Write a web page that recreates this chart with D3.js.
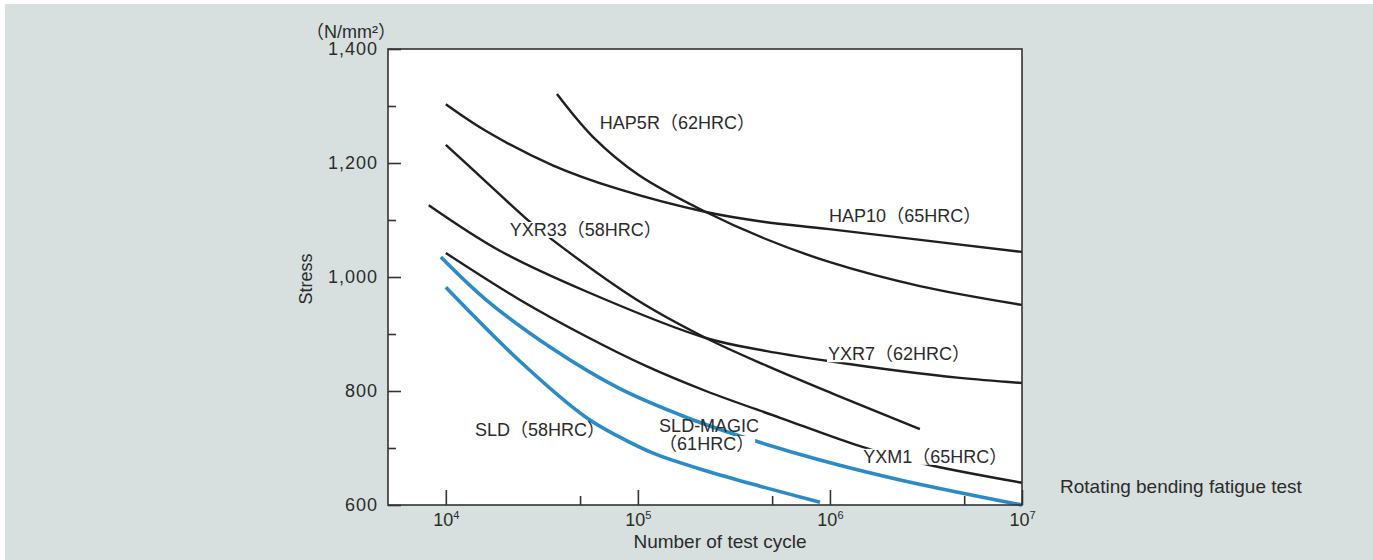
<!DOCTYPE html>
<html><head><meta charset="utf-8">
<script src="https://cdn.jsdelivr.net/npm/d3@7"></script>
<style>
html,body{margin:0;padding:0;background:#fff;}
svg{display:block;font-family:'Liberation Sans',Arial,'Noto Sans CJK JP',sans-serif;}
</style>
</head><body>
<svg id="c" width="1373" height="560"></svg>
<script>
// ---- axis ticks ----
const yTicksMajor = [600, 800, 1000, 1200, 1400];
const yTicksMinor = [700, 900, 1100, 1300];
const xTicksMajor = [1e4, 1e5, 1e6, 1e7];
const xTicksMinor = [5e4, 5e5, 5e6];
const xTickBase = "10";
const xTickExp = {1e4: "4", 1e5: "5", 1e6: "6", 1e7: "7"};

// ---- series: [cycles, stress N/mm2] ----
const hap5r    = [[3.79e4,1321],[5.83e4,1246],[1.01e5,1179],[2.26e5,1114],[4.53e5,1068],[1e6,1026],[2.94e6,984],[1e7,951]];
const hap10    = [[1e4,1303],[1.62e4,1256],[3.6e4,1196],[7.96e4,1154],[2.26e5,1114],[4.48e5,1097],[9.9e5,1084],[1e7,1044]];
const yxr33    = [[1e4,1232],[1.62e4,1167],[2.61e4,1103],[3.44e4,1070],[9.77e4,961],[2.26e5,893],[4.7e5,844],[1.04e6,795],[2.94e6,733]];
const yxr7     = [[8.15e3,1126],[1.89e4,1047],[5.36e4,975],[2.26e5,893],[4.7e5,870],[9.64e5,853],[2.32e6,835],[4.75e6,823],[1e7,814]];
const yxm1     = [[1e4,1042],[2.4e4,961],[5.36e4,896],[1.1e5,844],[2.26e5,800],[5.5e5,753],[1.38e6,705],[2.84e6,675],[1e7,639]];
const sldMagic = [[9.42e3,1035],[1.62e4,960],[3.6e4,874],[8.05e4,804],[1.78e5,754],[3.4e5,721],[8.87e5,679],[2.32e6,644],[1e7,600]];
const sld      = [[1e4,982],[2.4e4,854],[5.36e4,754],[8.05e4,719],[1.2e5,691],[2.26e5,660],[4.32e5,633],[8.87e5,605]];

const blackSeries = [hap10, hap5r, yxr33, yxr7, yxm1];
const blueSeries  = [sldMagic, sld];

// labels: text lines, anchor [cycles, stress] of first baseline (left edge)
const labelTexts = [
  ["HAP5R（62HRC）"], ["HAP10（65HRC）"], ["YXR33（58HRC）"], ["YXR7（62HRC）"],
  ["SLD（58HRC）"], ["SLD-MAGIC", "（61HRC）"], ["YXM1（65HRC）"]
];
const labelAnchors = [
  [6.34e4, 1260], [9.9e5, 1097], [2.15e4, 1072], [9.77e5, 854],
  [1.42e4, 721], [1.29e5, 728], [1.49e6, 674]
];
// which label lines get a white backing box
const labelBoxes = [[true], [true], [true], [true], [false], [false, true], [true]];

const W = 1373, H = 560;
const svg = d3.select("#c");
svg.append("rect").attr("x",5).attr("y",4).attr("width",W-5).attr("height",H-4).attr("fill","#d7e0df");

const x = d3.scaleLog().domain([5000, 1e7]).range([388, 1022]);
const y = d3.scaleLinear().domain([600, 1400]).range([505, 49]);

// plot area
svg.append("rect").attr("x",x.range()[0]).attr("y",y.range()[1])
  .attr("width",x.range()[1]-x.range()[0]).attr("height",y.range()[0]-y.range()[1])
  .attr("fill","#fff");

const textCol = "#2b2b2b";
const axisCol = "#333";

// lines
const line = d3.line().x(d=>x(d[0])).y(d=>y(d[1])).curve(d3.curveCatmullRom.alpha(0.5));
const gl = svg.append("g").attr("fill","none").attr("stroke-linecap","butt");
gl.selectAll("path.b").data(blackSeries).join("path").attr("class","b")
  .attr("d", line).attr("stroke","#1f1f1f").attr("stroke-width",2.4);
gl.selectAll("path.bl").data(blueSeries).join("path").attr("class","bl")
  .attr("d", line).attr("stroke","#2a8bc6").attr("stroke-width",3.6);

// labels with white backgrounds
const gLab = svg.append("g").attr("font-size",18).attr("fill",textCol);
labelTexts.forEach((lines, i) => {
  const g = gLab.append("g");
  const bx = x(labelAnchors[i][0]), by = y(labelAnchors[i][1]);
  lines.forEach((t, j) => {
    const bg = g.append("rect").attr("fill","#fff");
    const tx = g.append("text").attr("x", bx).attr("y", by + j*18).text(t);
    const bb = tx.node().getBBox();
    if (labelBoxes[i][j]) {
      bg.attr("x", bb.x - 1).attr("y", by + j*18 - 14).attr("width", bb.width + 2).attr("height", 16);
    } else bg.remove();
  });
});

// axes frame
svg.append("rect").attr("x",x.range()[0]).attr("y",y.range()[1])
  .attr("width",x.range()[1]-x.range()[0]).attr("height",y.range()[0]-y.range()[1])
  .attr("fill","none").attr("stroke",axisCol).attr("stroke-width",1.6);

// y axis
const yAx = svg.append("g").attr("transform",`translate(${x.range()[0]},0)`)
  .call(d3.axisLeft(y).tickValues(yTicksMajor).tickSizeInner(-13).tickSizeOuter(0).tickPadding(10)
    .tickFormat(d3.format(",")));
yAx.select(".domain").remove();
yAx.selectAll("line").attr("stroke",axisCol).attr("stroke-width",1.6);
yAx.selectAll("text").attr("font-size",18).attr("fill",textCol).attr("font-family",null)
  .attr("letter-spacing","1px");
const yMin = svg.append("g").attr("transform",`translate(${x.range()[0]},0)`)
  .call(d3.axisLeft(y).tickValues(yTicksMinor).tickSizeInner(-8).tickSizeOuter(0).tickFormat(""));
yMin.select(".domain").remove();
yMin.selectAll("line").attr("stroke",axisCol).attr("stroke-width",1.6);

// x axis
const xAx = svg.append("g").attr("transform",`translate(0,${y.range()[0]})`)
  .call(d3.axisBottom(x).tickValues(xTicksMajor).tickSizeInner(-15).tickSizeOuter(0).tickFormat(""));
xAx.select(".domain").remove();
xAx.selectAll("line").attr("stroke",axisCol).attr("stroke-width",1.6);
xAx.selectAll(".tick").each(function(d){
  const t = d3.select(this).append("text").attr("text-anchor","middle").attr("y",21)
    .attr("fill",textCol).attr("font-size",18);
  t.append("tspan").text(xTickBase);
  t.append("tspan").attr("dy",-7).attr("font-size",11).text(xTickExp[d]);
});
const xMin = svg.append("g").attr("transform",`translate(0,${y.range()[0]})`)
  .call(d3.axisBottom(x).tickValues(xTicksMinor).tickSizeInner(-9).tickSizeOuter(0).tickFormat(""));
xMin.select(".domain").remove();
xMin.selectAll("line").attr("stroke",axisCol).attr("stroke-width",1.6);

// titles
svg.append("text").attr("x",396).attr("y",38).attr("text-anchor","end")
  .attr("font-size",18).attr("fill",textCol).text("（N/mm²）");
svg.append("text").attr("transform","translate(312,279) rotate(-90)").attr("text-anchor","middle")
  .attr("font-size",18).attr("fill",textCol).text("Stress");
svg.append("text").attr("x",720).attr("y",548).attr("text-anchor","middle")
  .attr("font-size",19).attr("fill",textCol).text("Number of test cycle");
svg.append("text").attr("x",1060).attr("y",493)
  .attr("font-size",19).attr("fill",textCol).text("Rotating bending fatigue test");
</script>
</body></html>
